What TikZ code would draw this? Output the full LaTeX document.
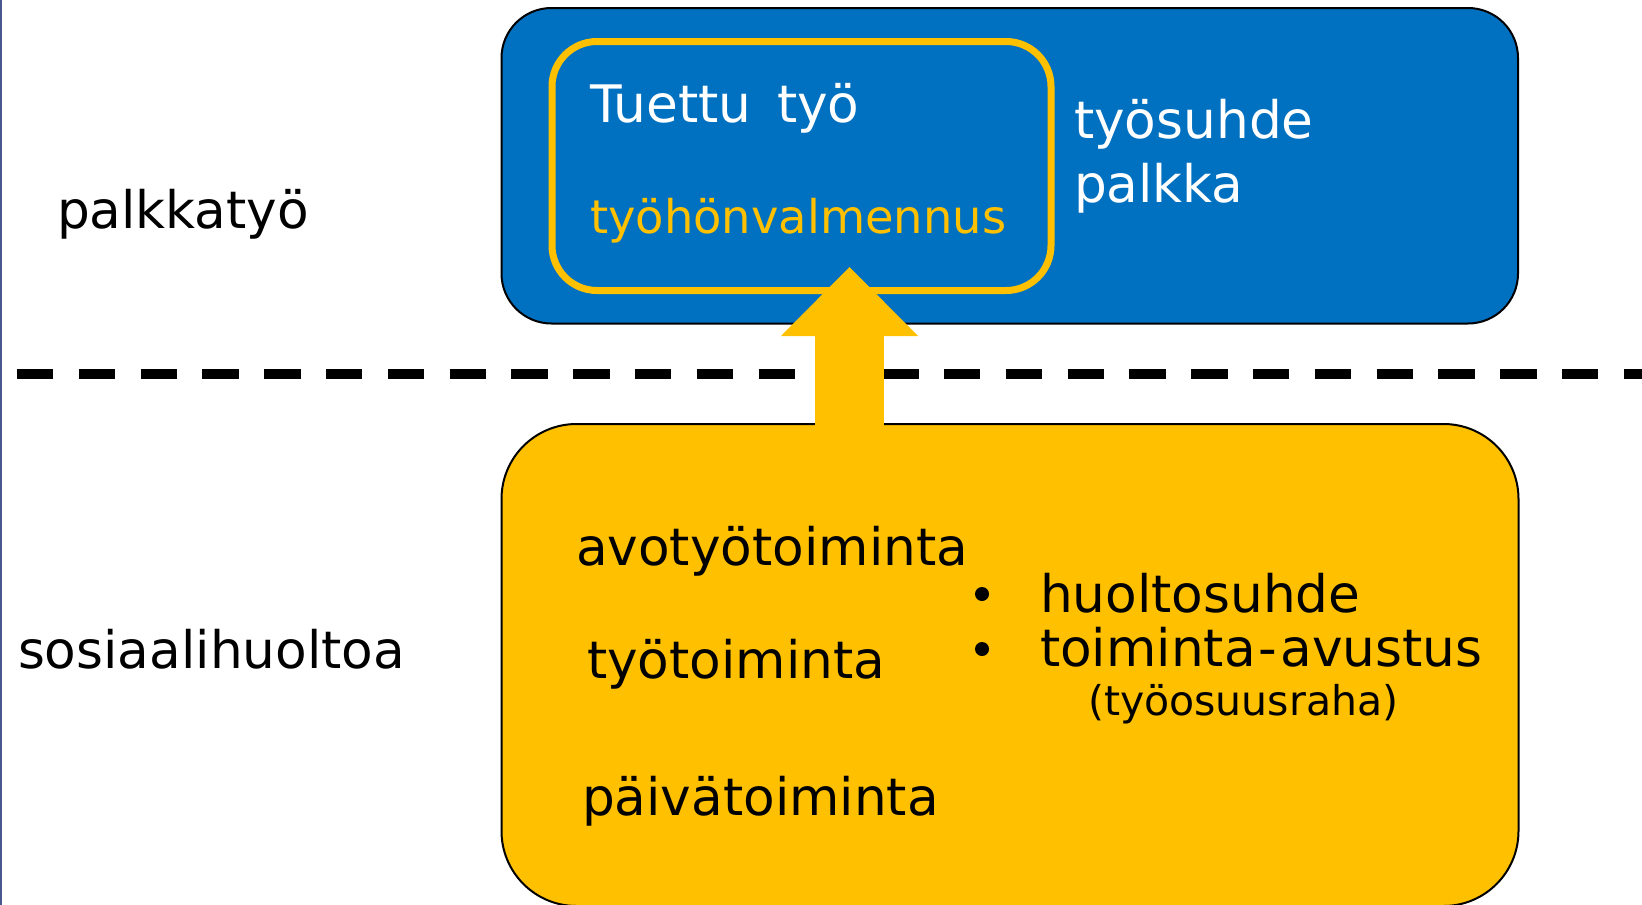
\documentclass[tikz,border=0pt]{standalone}
\usepackage{fontspec}
\setmainfont{DejaVu Sans}
\usetikzlibrary{arrows.meta,calc}

\definecolor{boxblue}{HTML}{0070C0}
\definecolor{boxyellow}{HTML}{FFC000}
\definecolor{edgeline}{HTML}{4A5690}

\begin{document}
\begin{tikzpicture}[x=1pt,y=-1pt,
    big box/.style={rounded corners=#1, draw=black, line width=2pt, inner sep=0pt, outer sep=0pt},
    word node/.style={anchor=base west, inner sep=0pt, outer sep=0pt, font=\fontsize{51.7}{62}\selectfont},
    dot node/.style={circle, fill=black, inner sep=0pt, minimum size=14pt},
    up arrow/.style={draw=boxyellow, line width=69pt, -{Triangle[length=69pt,width=137pt,line width=0pt]}}]

    \useasboundingbox (0,0) rectangle (1642,905);

    % left edge and dividing line
    \coordinate (edge top) at (1,0);
    \coordinate (edge bottom) at (1,905);
    \draw[edgeline, line width=2pt] (edge top) -- (edge bottom);
    \coordinate (dash start) at (17,374);
    \coordinate (dash end) at (1642,374);
    \draw[line width=10pt, dash pattern=on 36.4pt off 25.4pt] (dash start) -- (dash end);

    % palkkatyo
    \node[big box=50pt, fill=boxblue, minimum width=1016.5pt, minimum height=315.5pt] (palkka) at (1009.75,165.75) {};
    \node[rounded corners=45pt, draw=boxyellow, line width=7pt, inner sep=0pt, minimum width=499pt, minimum height=249pt] (tuettu) at (801.5,166) {};
    \node[word node, white] (tuettu tyo) at (590,122) {Tuettu\hspace{9pt} työ};
    \node[word node, boxyellow, font=\fontsize{46.4}{56}\selectfont] (valmennus) at (590,233) {työhönvalmennus};
    \node[word node, white] (tyosuhde) at (1074,138) {työsuhde};
    \node[word node, white] (palkka txt) at (1074,202) {palkka};
    \node[word node] (palkkatyo) at (57,228) {palkkatyö};

    % sosiaalihuolto
    \node[big box=75pt, fill=boxyellow, minimum width=1017pt, minimum height=482pt] (sos) at (1010,665) {};
    \node[word node] (sosiaali) at (18,668) {sosiaalihuoltoa};
    \node[word node] (avotyo) at (576,565) {avotyötoiminta};
    \node[word node] (tyotoim) at (587,678) {työtoiminta};
    \node[word node] (paiva) at (582,815) {päivätoiminta};
    \node[dot node] (dot1) at (982,594) {};
    \node[dot node] (dot2) at (982,649) {};
    \node[word node] (huolto) at (1040,612) {huoltosuhde};
    \node[word node] (avustus) at (1040,666) {toiminta\kern3pt-\kern3pt avustus};
    \node[word node, font=\fontsize{41}{50}\selectfont] (raha) at (1088,715) {(työosuusraha)};

    % arrow up
    \coordinate (tip) at (849.5,267);
    \draw[up arrow] ($(sos.north -| tip)+(0,3)$) -- (tip);

\end{tikzpicture}
\end{document}
